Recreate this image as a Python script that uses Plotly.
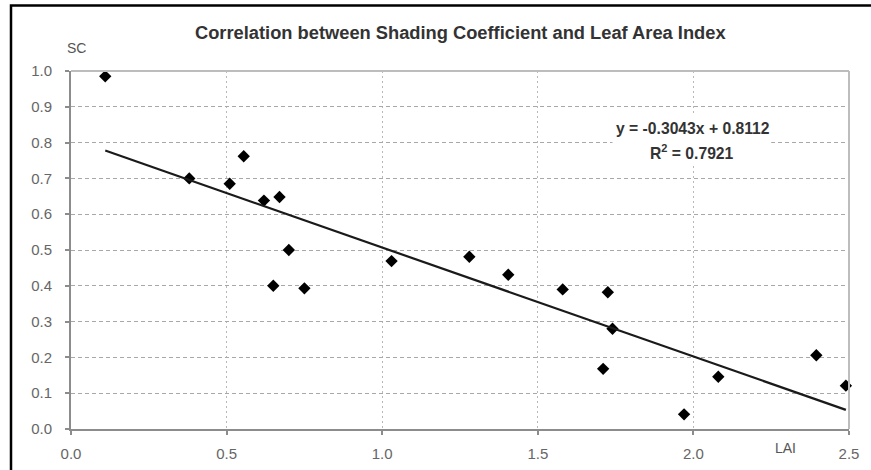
import plotly.graph_objects as go

# Data
lai = [0.11, 0.38, 0.51, 0.555, 0.62, 0.67, 0.70, 0.65, 0.75, 1.03, 1.28, 1.405,
       1.58, 1.725, 1.74, 1.71, 1.97, 2.08, 2.395, 2.49]
sc = [0.985, 0.70, 0.685, 0.762, 0.638, 0.648, 0.50, 0.40, 0.393, 0.469, 0.481, 0.431,
      0.390, 0.382, 0.280, 0.168, 0.041, 0.146, 0.206, 0.121]

slope = -0.3043
intercept = 0.8112
r2 = 0.7921

title_text = "Correlation between Shading Coefficient and Leaf Area Index"
x_ticks = [0.0, 0.5, 1.0, 1.5, 2.0, 2.5]
y_ticks = [0.0, 0.1, 0.2, 0.3, 0.4, 0.5, 0.6, 0.7, 0.8, 0.9, 1.0]

x_fit = [min(lai), max(lai)]
y_fit = [slope * v + intercept for v in x_fit]

FONT = "Arial, Liberation Sans, sans-serif"

fig = go.Figure()
fig.add_trace(go.Scatter(
    x=lai, y=sc, mode="markers",
    marker=dict(symbol="diamond", size=9.5, color="black"),
    showlegend=False, cliponaxis=False,
))
fig.add_trace(go.Scatter(
    x=x_fit, y=y_fit, mode="lines",
    line=dict(color="#1a1a1a", width=2.2),
    showlegend=False,
))

fig.update_layout(
    width=871, height=470,
    margin=dict(l=71, r=22, t=71, b=41, autoexpand=False),
    paper_bgcolor="white", plot_bgcolor="white",
    xaxis=dict(range=[0, 2.5], tickvals=x_ticks,
               ticktext=[f"{v:.1f}" for v in x_ticks],
               showgrid=True, gridcolor="#b8b8b8", griddash="2px,3px", gridwidth=1,
               showline=True, linecolor="#8c8c8c", linewidth=2,
               ticks="outside", ticklen=4, tickcolor="#8c8c8c", tickwidth=1.5,
               ticklabelstandoff=6, automargin=False,
               tickfont=dict(family=FONT, size=15, color="#666666"),
               zeroline=False),
    yaxis=dict(range=[0, 1.0], tickvals=y_ticks,
               ticktext=[f"{v:.1f}" for v in y_ticks],
               showgrid=True, gridcolor="#a8a8a8", griddash="4px,3px", gridwidth=1,
               showline=True, linecolor="#8c8c8c", linewidth=2,
               ticks="outside", ticklen=4, tickcolor="#8c8c8c", tickwidth=1.5,
               ticklabelstandoff=10, automargin=False,
               tickfont=dict(family=FONT, size=15, color="#666666"),
               zeroline=False),
)

# title, centred over the plot area
fig.add_annotation(x=0.5, y=(429 - 33) / 358, xref="paper", yref="paper",
                   xanchor="center", yanchor="middle",
                   showarrow=False, text="<b>" + title_text + "</b>",
                   font=dict(family=FONT, size=18.3, color="#333333"))

# top and right plot border (lighter gray)
fig.add_shape(type="line", xref="paper", yref="paper", x0=0, x1=1, y0=1, y1=1,
              line=dict(color="#bdbdbd", width=2))
fig.add_shape(type="line", xref="paper", yref="paper", x0=1, x1=1, y0=0, y1=1,
              line=dict(color="#bdbdbd", width=2))
# outer chart frame
fig.add_shape(type="rect", xref="paper", yref="paper",
              x0=(11 - 71) / 778, x1=(900 - 71) / 778,
              y0=(429 - 500) / 358, y1=(429 - 5.5) / 358,
              line=dict(color="black", width=2.5), fillcolor="rgba(0,0,0,0)")
# white box behind the equation label
fig.add_shape(type="rect", xref="x", yref="y", layer="between",
              x0=1.74, x1=2.25, y0=0.74, y1=0.875,
              line=dict(width=0), fillcolor="white")

fig.add_annotation(x=1.998, y=0.84, xref="x", yref="y", showarrow=False,
                   xanchor="center", yanchor="middle",
                   text="<b>y = -0.3043x + 0.8112</b>",
                   font=dict(family=FONT, size=15.7, color="#333333"))
fig.add_annotation(x=1.995, y=0.773, xref="x", yref="y", showarrow=False,
                   xanchor="center", yanchor="middle",
                   text="<b>R<sup>2</sup> = 0.7921</b>",
                   font=dict(family=FONT, size=15.7, color="#333333"))

# axis titles
fig.add_annotation(x=(76 - 71) / 778, y=(429 - 48) / 358, xref="paper", yref="paper",
                   xanchor="center", yanchor="middle",
                   showarrow=False, text="SC",
                   font=dict(family=FONT, size=14, color="#555555"))
fig.add_annotation(x=(785 - 71) / 778, y=(429 - 448) / 358, xref="paper", yref="paper",
                   xanchor="center", yanchor="middle",
                   showarrow=False, text="LAI",
                   font=dict(family=FONT, size=14, color="#555555"))

fig.write_html("out.html", config={"displayModeBar": False},
               post_script="document.body.style.margin='0';"
                           "document.body.style.overflow='hidden';")
